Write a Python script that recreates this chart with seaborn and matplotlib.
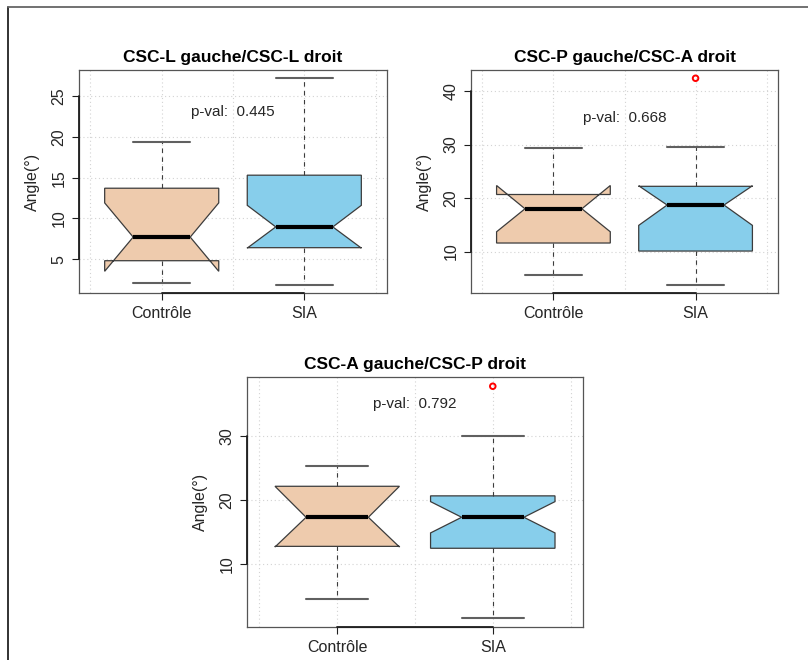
import matplotlib
matplotlib.use("Agg")
import matplotlib.pyplot as plt
import seaborn as sns
from matplotlib.lines import Line2D
import matplotlib.transforms as mtransforms

# Groups and panels
groups = ["Contrôle", "SIA"]
titles = ["CSC-L gauche/CSC-L droit",
          "CSC-P gauche/CSC-A droit",
          "CSC-A gauche/CSC-P droit"]
p_values = ["0.445", "0.668", "0.792"]
p_text_y = [23.0, 35.0, 35.0]

# Box statistics per panel, each as [Contrôle, SIA]
whisker_low = [[2.1, 1.85], [5.7, 3.8], [4.55, 1.63]]
q1 = [[4.8, 6.4], [11.6, 10.1], [12.8, 12.5]]
median = [[7.7, 8.95], [18.0, 18.7], [17.35, 17.35]]
q3 = [[13.7, 15.3], [20.67, 22.2], [22.2, 20.7]]
whisker_high = [[19.4, 27.2], [29.4, 29.6], [25.3, 30.1]]
notch_low = [[3.5, 6.35], [13.7, 14.9], [12.7, 14.9]]
notch_high = [[11.9, 11.6], [22.35, 22.3], [22.2, 19.8]]
outliers = [[[], []], [[], [42.4]], [[], [37.85]]]

y_ticks = [[5, 10, 15, 20, 25], [10, 20, 30, 40], [10, 20, 30]]
box_colors = ["#EECBAD", "#87CEEB"]

sns.set_theme(style="white")
plt.rcParams["font.family"] = ["Liberation Sans", "DejaVu Sans"]

W, H = 808, 660
fig = plt.figure(figsize=(W / 100, H / 100), dpi=100)
fig.patch.set_facecolor("white")

# axes rectangles in pixels: left, top, right, bottom
panel_px = [(79, 70, 387, 293), (471, 70, 778, 293), (247, 377, 583, 627)]

grid_c = "#D3D3D3"
frame_c = "#555555"
axis_c = "#1E1E1E"
text_c = "#262626"

for i, (l, t, r, b) in enumerate(panel_px):
    ax = fig.add_axes([l / W, 1 - b / H, (r - l) / W, (b - t) / H])
    ax.set_facecolor("white")

    # R-style limits: 4% padding around range of all drawn values
    vals = whisker_low[i] + whisker_high[i] + sum(outliers[i], [])
    lo, hi = min(vals), max(vals)
    pad = 0.04 * (hi - lo)
    ax.set_ylim(lo - pad, hi + pad)
    ax.set_xlim(0.42, 2.58)

    # dotted grid beneath the boxes
    for gx in [0.5, 1.0, 1.5, 2.0, 2.5]:
        ax.axvline(gx, color=grid_c, lw=0.8, ls=(0, (1, 2.5)), zorder=0)
    for gy in y_ticks[i]:
        ax.axhline(gy, color=grid_c, lw=0.8, ls=(0, (1, 2.5)), zorder=0)

    stats = []
    for j, g in enumerate(groups):
        stats.append(dict(label=g, whislo=whisker_low[i][j], q1=q1[i][j],
                          med=median[i][j], q3=q3[i][j],
                          whishi=whisker_high[i][j],
                          cilo=notch_low[i][j], cihi=notch_high[i][j],
                          fliers=[]))
    bp = ax.bxp(stats, positions=[1, 2], widths=0.8, shownotches=True,
                patch_artist=True, showfliers=False,
                boxprops=dict(edgecolor="#3C3C3C", linewidth=0.9),
                whiskerprops=dict(color="#3C3C3C", linewidth=0.8,
                                  linestyle=(0, (4, 4))),
                capprops=dict(color="#606060", linewidth=1.5),
                medianprops=dict(color="black", linewidth=3,
                                 solid_capstyle="butt"))
    for patch, c in zip(bp["boxes"], box_colors):
        patch.set_facecolor(c)

    # outlying points
    ox, oy = [], []
    for j, pts in enumerate(outliers[i]):
        ox += [j + 1] * len(pts)
        oy += pts
    if ox:
        sns.scatterplot(x=ox, y=oy, ax=ax, s=16, facecolor="none",
                        edgecolor="red", linewidth=1.4, zorder=5,
                        legend=False)

    ax.text(1.5, p_text_y[i], "p-val:  " + p_values[i], ha="center",
            va="center", fontsize=11, color=text_c)

    ax.set_xticks([1, 2])
    ax.set_xticklabels(groups, fontsize=11.5)
    ax.set_yticks(y_ticks[i])
    ax.set_yticklabels([str(v) for v in y_ticks[i]], fontsize=11.5,
                       rotation=90, va="center")
    ax.tick_params(axis="both", direction="out", length=5, width=0.8,
                   color=axis_c, labelcolor=text_c, bottom=True, left=True)
    ax.tick_params(axis="y", pad=4)
    ax.tick_params(axis="x", pad=4)
    ax.set_xlabel("")
    ax.set_ylabel("Angle(°)", fontsize=11.5, color=text_c, labelpad=8)
    ax.set_title(titles[i], fontsize=12.5, fontweight="bold", pad=6,
                 color="black")

    for s in ax.spines.values():
        s.set_visible(True)
        s.set_color(frame_c)
        s.set_linewidth(0.9)

    # axis lines spanning the tick range
    tb = mtransforms.blended_transform_factory(ax.transData, ax.transAxes)
    ax.add_line(Line2D([1, 2], [0, 0], transform=tb, color=axis_c,
                       lw=1.3, clip_on=False, zorder=6))
    tl = mtransforms.blended_transform_factory(ax.transAxes, ax.transData)
    ax.add_line(Line2D([0, 0], [y_ticks[i][0], y_ticks[i][-1]], transform=tl,
                       color=axis_c, lw=1.3, clip_on=False, zorder=6))

# outer frame edges
fig.add_artist(Line2D([8 / W, 8 / W], [0, 1 - 7 / H], transform=fig.transFigure,
                      color="#222222", lw=1.3))
fig.add_artist(Line2D([8 / W, 1], [1 - 7 / H, 1 - 7 / H],
                      transform=fig.transFigure, color="#666666", lw=1.3))

fig.savefig("out.png", dpi=100, facecolor="white")
